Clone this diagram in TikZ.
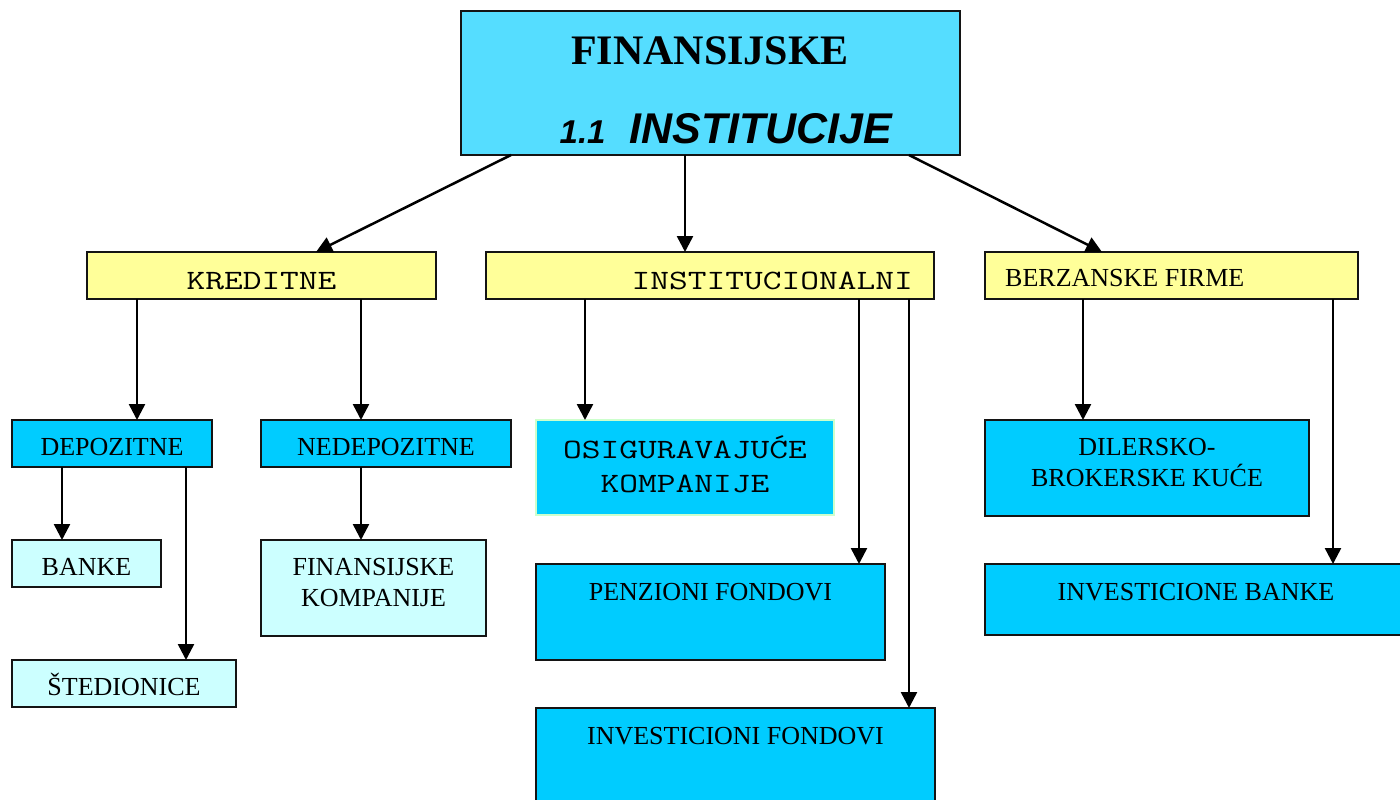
\documentclass[tikz,border=0pt]{standalone}
\usepackage{fontspec}
\usepackage{graphicx}
\setmainfont{Liberation Serif}
\newfontfamily\arialfont{Liberation Sans}
\usetikzlibrary{arrows.meta,calc}
\definecolor{titlecyan}{RGB}{85,221,255}
\definecolor{boxcyan}{RGB}{0,204,255}
\definecolor{palecyan}{RGB}{204,255,255}
\definecolor{paleyellow}{RGB}{255,255,153}
\definecolor{palegreen}{RGB}{204,255,204}
\definecolor{edgecol}{RGB}{20,20,20}
\newcommand\widemono[1]{\scalebox{1.3}[1]{#1}}
\tikzset{
  box/.style={draw=edgecol, line width=1.8pt, inner sep=0pt, outer sep=0pt, anchor=north west},
  ybox/.style={box, fill=paleyellow},
  cbox/.style={box, fill=boxcyan},
  pbox/.style={box, fill=palecyan},
  sertxt/.style={inner sep=0pt, anchor=base, font=\fontsize{26}{31}\selectfont, align=center},
  montxt/.style={inner sep=0pt, anchor=base, font=\ttfamily\fontsize{28}{34}\selectfont, align=center},
  arr/.style={line width=2.5pt, draw=black, -{Triangle[length=16pt,width=16pt]}}
}
\begin{document}
\begin{tikzpicture}[x=1pt,y=-1pt]
\useasboundingbox (0,0) rectangle (1400,800);
% boxes
\node[box, fill=titlecyan, minimum width=499, minimum height=144] (top) at (461,11) {};
\node[ybox, minimum width=349, minimum height=47] (kred) at (87,252) {};
\node[ybox, minimum width=448, minimum height=47] (inst) at (486,252) {};
\node[ybox, minimum width=373, minimum height=47] (berz) at (985,252) {};
\node[cbox, minimum width=200, minimum height=47] (dep) at (12,420) {};
\node[cbox, minimum width=250, minimum height=47] (nedep) at (261,420) {};
\node[cbox, draw=palegreen, minimum width=298, minimum height=95] (osig) at (536,420) {};
\node[pbox, minimum width=149, minimum height=47] (banke) at (12,540) {};
\node[pbox, minimum width=224, minimum height=47] (sted) at (12,660) {};
\node[pbox, minimum width=225, minimum height=96] (finkomp) at (261,540) {};
\node[cbox, minimum width=349, minimum height=96] (penz) at (536,564) {};
\node[cbox, minimum width=399, minimum height=96] (invf) at (536,708) {};
\node[cbox, minimum width=324, minimum height=96] (diler) at (985,420) {};
\node[cbox, minimum width=422, minimum height=71] (invb) at (985,564) {};
% texts
\node[inner sep=0pt, anchor=base, font=\bfseries\fontsize{42}{46}\selectfont] (t1) at ($(top.north west)+(249,53)$) {FINANSIJSKE};
\node[inner sep=0pt, anchor=base, font=\arialfont\bfseries\itshape] (t2) at ($(top.north west)+(265,132)$) {{\fontsize{33}{36}\selectfont 1.1}\hspace{24pt}{\fontsize{43}{46}\selectfont INSTITUCIJE}};
\node[montxt] (kredt) at ($(kred.north west)+(174.5,37)$) {\widemono{KREDITNE}};
\node[montxt, anchor=base east] (instt) at ($(inst.north west)+(427,37)$) {\widemono{INSTITUCIONALNI}};
\node[sertxt, anchor=base west] (berzt) at ($(berz.north west)+(20,34.5)$) {BERZANSKE FIRME};
\node[sertxt] (dept) at ($(dep.north)+(0,35)$) {DEPOZITNE};
\node[sertxt] (nedept) at ($(nedep.north)+(0,35)$) {NEDEPOZITNE};
\node[montxt] (osigt) at ($(osig.north)+(0,72)$) {\widemono{OSIGURAVAJUĆE}\\\widemono{KOMPANIJE}};
\node[sertxt] (bankt) at ($(banke.north)+(0,35)$) {BANKE};
\node[sertxt] (stedt) at ($(sted.north)+(0,35)$) {ŠTEDIONICE};
\node[sertxt] (finkompt) at ($(finkomp.north)+(0,66.5)$) {FINANSIJSKE\\KOMPANIJE};
\node[sertxt] (penzt) at ($(penz.north)+(0,36)$) {PENZIONI FONDOVI};
\node[sertxt] (invft) at ($(invf.north)+(0,36)$) {INVESTICIONI FONDOVI};
\node[sertxt] (dilert) at ($(diler.north)+(0,66)$) {DILERSKO-\\BROKERSKE KUĆE};
\node[sertxt] (invbt) at ($(invb.north)+(0,36.5)$) {INVESTICIONE BANKE};
% connector anchors
\coordinate (a1) at ($(top.south west)+(50,0)$);
\coordinate (a1e) at ($(kred.north west)+(229,0)$);
\coordinate (a2) at ($(top.south west)+(224,0)$);
\coordinate (a3) at ($(top.south west)+(448,0)$);
\coordinate (a3e) at ($(berz.north west)+(117,0)$);
\coordinate (k1) at ($(kred.south west)+(50,0)$);
\coordinate (k2) at ($(kred.south west)+(274,0)$);
\coordinate (n1) at ($(nedep.south west)+(100,0)$);
\coordinate (d1) at ($(dep.south west)+(50,0)$);
\coordinate (d2) at ($(dep.south west)+(174,0)$);
\coordinate (i1) at ($(inst.south west)+(99,0)$);
\coordinate (i2) at ($(inst.south west)+(373,0)$);
\coordinate (i3) at ($(inst.south west)+(423,0)$);
\coordinate (b1) at ($(berz.south west)+(98,0)$);
\coordinate (b2) at ($(berz.south west)+(348,0)$);
% connectors
\draw[arr] (a1) -- (a1e);
\draw[arr] (a2) -- (a2 |- inst.north);
\draw[arr] (a3) -- (a3e);
\draw[arr] (k1) -- (k1 |- dep.north);
\draw[arr] (k2) -- (k2 |- nedep.north);
\draw[arr] (d1) -- (d1 |- banke.north);
\draw[arr] (d2) -- (d2 |- sted.north);
\draw[arr] (n1) -- (n1 |- finkomp.north);
\draw[arr] (i1) -- (i1 |- osig.north);
\draw[arr] (i2) -- (i2 |- penz.north);
\draw[arr] (i3) -- (i3 |- invf.north);
\draw[arr] (b1) -- (b1 |- diler.north);
\draw[arr] (b2) -- (b2 |- invb.north);
\end{tikzpicture}
\end{document}
